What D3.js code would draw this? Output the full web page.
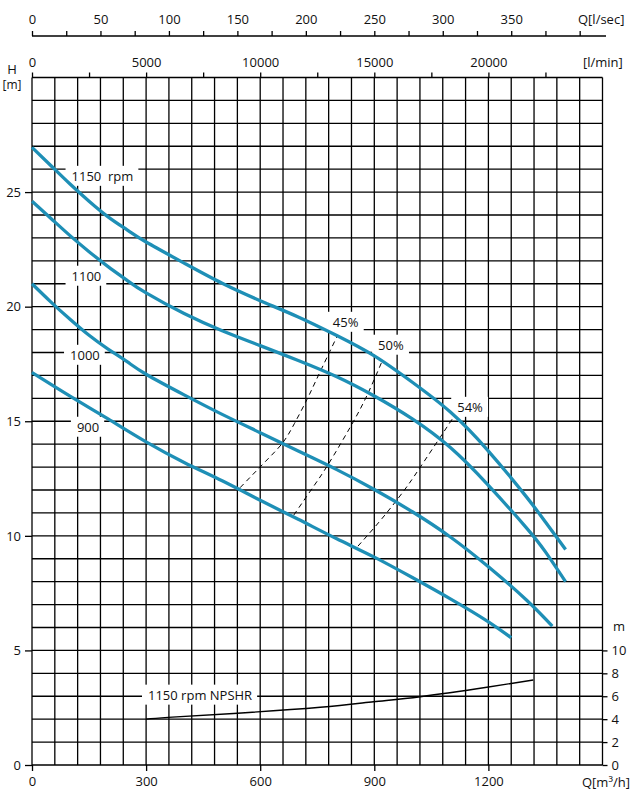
<!DOCTYPE html>
<html lang="en">
<head>
    <meta charset="UTF-8">
    <title>Pump curves</title>
    <script src="https://d3js.org/d3.v7.min.js"></script>
    <style>
        body { margin: 0; background: #fff; }
        text { font-family: "Open Sans", "Noto Sans", sans-serif; font-size: 13px; fill: #111; }
        .grid line { stroke: #000; stroke-width: 1.3; }
        .axis path, .axis line { stroke: #000; stroke-width: 1.3; }
    </style>
</head>
<body>
<div id="chart"></div>
<script>
    // tick labels
    const qTicks = [0, 300, 600, 900, 1200];          // m3/h
    const hTicks = [0, 5, 10, 15, 20, 25];            // m
    const lsTicks = [0, 50, 100, 150, 200, 250, 300, 350];
    const lminTicks = [0, 5000, 10000, 15000, 20000];
    const npshTicks = [0, 2, 4, 6, 8, 10];

    // head curves [Q m3/h, H m]
    const rpm1150 = [[0,26.95],[50,26.15],[100,25.35],[150,24.6],[200,23.92],[250,23.35],[300,22.82],[400,21.9],[500,21.02],[600,20.26],[700,19.55],[800,18.75],[900,17.85],[1000,16.7],[1100,15.4],[1200,13.7],[1300,11.7],[1350,10.6],[1403,9.4]];
    const rpm1100 = [[0,24.6],[50,23.85],[100,23.1],[150,22.4],[200,21.75],[250,21.15],[300,20.6],[400,19.7],[500,18.95],[600,18.3],[700,17.65],[800,16.95],[900,16.1],[1000,15.1],[1100,13.85],[1200,12.2],[1300,10.35],[1350,9.3],[1403,8.0]];
    const rpm1000 = [[0,21.0],[50,20.2],[100,19.45],[150,18.75],[200,18.15],[250,17.6],[300,17.05],[400,16.15],[500,15.3],[600,14.5],[700,13.7],[800,12.9],[900,12.02],[1000,11.05],[1100,9.95],[1200,8.65],[1300,7.2],[1368,6.06]];
    const rpm900 = [[0,17.13],[100,16.1],[200,15.1],[300,14.1],[400,13.2],[500,12.4],[600,11.55],[700,10.72],[800,9.88],[900,9.07],[1000,8.18],[1100,7.25],[1200,6.25],[1260,5.55]];

    // efficiency lines
    const eff45 = [[547,12.1],[620,13.35],[661,14.1],[690,14.9],[723,15.95],[753,17.0],[802,18.7]];
    const eff50 = [[688,10.9],[740,12.15],[780,13.15],[837,14.75],[880,16.1],[920,17.6]];
    const eff54 = [[857,9.55],[920,10.75],[977,11.95],[1017,12.9],[1074,14.32],[1109,15.2]];

    // NPSHR at 1150 rpm [Q m3/h, NPSH m]
    const npshr = [[300,4.0],[358,4.16],[530,4.5],[758,5.04],[898,5.52],[1021,5.96],[1196,6.78],[1318,7.42]];

    const width = 633, height = 800;
    const pLeft = 32, pRight = 602.5, pTop = 77.5, pBottom = 765;

    const svg = d3.select("#chart").append("svg")
        .attr("width", width).attr("height", height);

    const x = d3.scaleLinear().domain([0, 1500]).range([pLeft, pRight]);
    const y = d3.scaleLinear().domain([0, 30]).range([pBottom, pTop]);
    const yN = d3.scaleLinear().domain([0, 60]).range([pBottom, pTop]);
    const xLs = d3.scaleLinear().domain([0, 1500 / 3.6]).range([pLeft, pRight]);
    const xLm = d3.scaleLinear().domain([0, 25000]).range([pLeft, pRight]);

    // grid
    const grid = svg.append("g").attr("class", "grid");
    grid.selectAll(".v").data(d3.range(0, 1501, 60)).join("line")
        .attr("x1", d => x(d)).attr("x2", d => x(d))
        .attr("y1", pTop).attr("y2", pBottom);
    grid.selectAll(".h").data(d3.range(0, 31, 1)).join("line")
        .attr("x1", pLeft).attr("x2", pRight)
        .attr("y1", d => y(d)).attr("y2", d => y(d));

    // bottom axis
    svg.append("g").attr("class", "axis")
        .attr("transform", `translate(0,${pBottom})`)
        .call(d3.axisBottom(x).tickValues(qTicks).tickFormat(d3.format("d"))
            .tickSize(6).tickSizeOuter(0).tickPadding(6))
        .call(g => g.select(".domain").remove());
    svg.append("text").attr("x", 582).attr("y", 782).attr("dy", "0.35em").text("Q[m³/h]");

    // left axis
    svg.append("g").attr("class", "axis")
        .attr("transform", `translate(${pLeft},0)`)
        .call(d3.axisLeft(y).tickValues(hTicks).tickSize(7).tickSizeOuter(0).tickPadding(4))
        .call(g => g.select(".domain").remove());
    svg.append("text").attr("x", 12).attr("y", 69).attr("dy", "0.35em")
        .attr("text-anchor", "middle").style("font-size", "13px").text("H");
    svg.append("text").attr("x", 12).attr("y", 85).attr("dy", "0.35em")
        .attr("text-anchor", "middle").style("font-size", "12px").text("[m]");

    // right axis NPSH
    svg.append("g").attr("class", "axis")
        .attr("transform", `translate(${pRight},0)`)
        .call(d3.axisRight(yN).tickValues(npshTicks).tickSize(5).tickSizeOuter(0).tickPadding(4))
        .call(g => g.select(".domain").remove());
    svg.append("text").attr("x", 613).attr("y", 626).attr("dy", "0.35em").text("m");

    // top axis l/sec
    const topLs = svg.append("g").attr("class", "axis")
        .attr("transform", "translate(0,36)")
        .call(d3.axisTop(xLs).tickValues(d3.range(0, 401, 25)).tickSize(5).tickSizeOuter(0).tickPadding(7)
            .tickFormat(d => lsTicks.includes(d) ? d : ""))
        .call(g => g.select(".domain").remove());
    topLs.append("line").attr("x1", pLeft).attr("x2", 606).attr("y1", 0).attr("y2", 0);
    svg.append("text").attr("x", 578).attr("y", 19).attr("dy", "0.35em").text("Q[l/sec]");

    // top axis l/min
    svg.append("g").attr("class", "axis")
        .attr("transform", `translate(0,${pTop})`)
        .call(d3.axisTop(xLm).tickValues(d3.range(0, 22501, 2500)).tickSize(5).tickSizeOuter(0).tickPadding(6)
            .tickFormat(d => lminTicks.includes(d) ? d : ""))
        .call(g => g.select(".domain").remove());
    svg.append("text").attr("x", 583).attr("y", 62).attr("dy", "0.35em").text("[l/min]");

    // labels with white boxes
    const labels = [
        {t: "1150  rpm", q: 104, h: 25.69},
        {t: "1100", q: 104, h: 21.33},
        {t: "1000", q: 100, h: 17.88},
        {t: "900", q: 118, h: 14.74},
        {t: "45%", q: 791, h: 19.32},
        {t: "50%", q: 910, h: 18.32},
        {t: "54%", q: 1118, h: 15.61},
        {t: "1150 rpm NPSHR", q: 305, h: 3.05}
    ];
    const boxG = svg.append("g");
    const line = d3.line().x(d => x(d[0])).y(d => y(d[1])).curve(d3.curveNatural);
    const lineN = d3.line().x(d => x(d[0])).y(d => yN(d[1])).curve(d3.curveNatural);
    const curveG = svg.append("g");
    const textG = svg.append("g");

    labels.forEach(l => {
        const t = textG.append("text")
            .attr("x", x(l.q)).attr("y", y(l.h)).attr("dy", "0.35em")
            .style("white-space", "pre").text(l.t);
        const b = t.node().getBBox();
        boxG.append("rect")
            .attr("x", b.x - 6).attr("y", b.y - 1)
            .attr("width", b.width + 11).attr("height", b.height + 2)
            .attr("fill", "#fff");
    });

    [eff45, eff50, eff54].forEach(d => {
        curveG.append("path").datum(d).attr("d", line)
            .attr("fill", "none").attr("stroke", "#000")
            .attr("stroke-width", 1).attr("stroke-dasharray", "5,4");
    });

    [rpm1150, rpm1100, rpm1000, rpm900].forEach(d => {
        curveG.append("path").datum(d).attr("d", line)
            .attr("fill", "none").attr("stroke", "#1e8fb6")
            .attr("stroke-width", 3.3);
    });

    curveG.append("path").datum(npshr).attr("d", lineN)
        .attr("fill", "none").attr("stroke", "#000").attr("stroke-width", 1.4);
</script>
</body>
</html>
